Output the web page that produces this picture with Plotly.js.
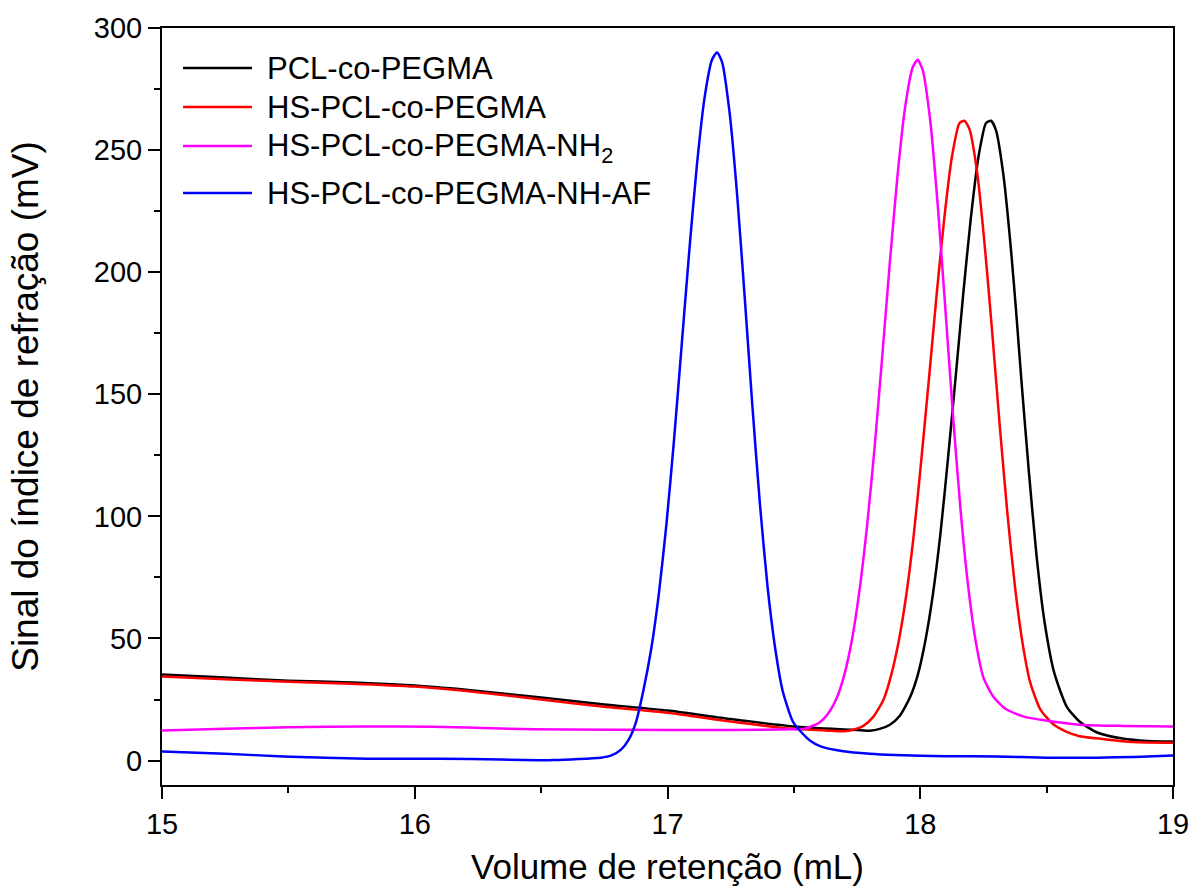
<!DOCTYPE html>
<html>
<head>
<meta charset="utf-8">
<script src="https://cdn.plot.ly/plotly-3.0.1.min.js"></script>
<style>html,body{margin:0;padding:0;background:#fff;}#chart{width:1192px;height:890px;}</style>
</head>
<body>
<div id="chart"></div>
<script>
// Series names
const seriesNames = ["PCL-co-PEGMA", "HS-PCL-co-PEGMA", "HS-PCL-co-PEGMA-NH<sub>2</sub>", "HS-PCL-co-PEGMA-NH-AF"];

// PCL-co-PEGMA (black)
const xBlack = [15, 15.25, 15.5, 15.75, 16, 16.25, 16.5, 16.75, 17, 17.25, 17.5, 17.65, 17.75, 17.8, 17.84, 17.88, 17.92, 17.96, 17.99, 18.02, 18.05, 18.08, 18.11, 18.14, 18.17, 18.2, 18.23, 18.26, 18.28, 18.3, 18.33, 18.36, 18.38, 18.4, 18.43, 18.46, 18.49, 18.53, 18.58, 18.63, 18.7, 18.8, 18.9, 19];
const yBlack = [35.2, 34, 32.7, 32, 30.7, 28.5, 25.8, 23, 20.5, 17, 14, 13, 12.5, 12.2, 13, 14.7, 18.5, 26, 35, 49, 68, 93, 124, 157, 191, 222, 247, 261, 262, 258, 239, 208, 183, 156, 118, 84, 58, 36, 22, 16, 11.5, 9, 8, 7.8];

// HS-PCL-co-PEGMA (red)
const xRed = [15, 15.25, 15.5, 15.75, 16, 16.25, 16.5, 16.75, 17, 17.25, 17.5, 17.65, 17.7, 17.735, 17.775, 17.815, 17.855, 17.885, 17.915, 17.945, 17.975, 18.005, 18.035, 18.065, 18.095, 18.125, 18.155, 18.175, 18.195, 18.225, 18.255, 18.285, 18.315, 18.345, 18.375, 18.405, 18.435, 18.475, 18.525, 18.575, 18.63, 18.71, 18.84, 19];
const yRed = [34.4, 33.3, 32.3, 31.5, 30.3, 28, 25, 22, 19.6, 16, 13, 12.2, 12, 12.6, 14.2, 18, 25, 35, 49, 68, 93, 124, 157, 191, 222, 247, 261, 262, 258.5, 241, 211, 175, 136.5, 101, 71, 48, 32, 21, 15, 12, 10, 9, 7.6, 7.3];

// HS-PCL-co-PEGMA-NH2 (magenta)
const xMag = [15, 15.25, 15.5, 15.81, 16.07, 16.34, 16.6, 17, 17.25, 17.5, 17.54, 17.6, 17.64, 17.67, 17.7, 17.73, 17.76, 17.79, 17.82, 17.85, 17.88, 17.91, 17.94, 17.97, 17.99, 18.01, 18.04, 18.07, 18.1, 18.13, 18.16, 18.19, 18.22, 18.25, 18.29, 18.34, 18.41, 18.49, 18.63, 18.8, 19];
const yMag = [12.3, 13, 13.7, 14, 13.9, 13.1, 12.7, 12.5, 12.5, 12.8, 13, 15.5, 19.9, 25.7, 35.3, 49.6, 70, 96.5, 129, 166, 204.4, 239.5, 267.5, 283.8, 287, 282.7, 261.6, 226.4, 184, 140.7, 102, 71, 48.5, 34, 26, 21, 18, 16.5, 14.7, 14.2, 14];

// HS-PCL-co-PEGMA-NH-AF (blue)
const xBlue = [15, 15.25, 15.48, 15.81, 16.1, 16.34, 16.55, 16.736, 16.776, 16.816, 16.846, 16.876, 16.906, 16.936, 16.966, 16.996, 17.026, 17.056, 17.086, 17.116, 17.146, 17.176, 17.196, 17.216, 17.246, 17.276, 17.306, 17.336, 17.366, 17.396, 17.426, 17.456, 17.496, 17.526, 17.566, 17.606, 17.696, 17.8, 17.9, 18.1, 18.3, 18.5, 18.7, 18.85, 19];
const yBlue = [3.7, 2.8, 1.7, 0.8, 0.8, 0.4, 0.2, 1.2, 2, 4.5, 8.5, 16, 29.4, 46, 68.5, 97, 131.5, 170, 208.5, 243.5, 271, 287, 290, 286, 265, 231, 189, 145, 104.6, 71, 46, 28.4, 16, 12, 8, 5.8, 3.8, 2.8, 2.3, 1.8, 1.7, 1.2, 1.2, 1.5, 2.1];

const colors = ["#000000", "#FF0000", "#FF00FF", "#0000FF"];
const xs = [xBlack, xRed, xMag, xBlue];
const ys = [yBlack, yRed, yMag, yBlue];

const FONT = "Liberation Sans, Arial, sans-serif";

const traces = xs.map((x, i) => ({
  x: x, y: ys[i], name: seriesNames[i], type: "scatter", mode: "lines",
  showlegend: false,
  line: {color: colors[i], width: 2.5, shape: "spline", smoothing: 0.6}
}));

// Legend drawn as line samples + labels (paper coordinates)
const legendY = [0.947, 0.8956, 0.8441, 0.782];
const legendShapes = seriesNames.map((n, i) => ({
  type: "line", xref: "paper", yref: "paper",
  x0: 0.0208, x1: 0.089, y0: legendY[i], y1: legendY[i],
  line: {color: colors[i], width: 2.5}
}));
const legendLabels = seriesNames.map((n, i) => ({
  xref: "paper", yref: "paper", x: 0.1019, y: legendY[i] + (i === 2 ? -0.003 : 0),
  xanchor: "left", yanchor: "middle", showarrow: false, text: n,
  font: {family: FONT, size: 31, color: "#000"}
}));

const layout = {
  width: 1192, height: 890,
  margin: {l: 162, r: 19, t: 28, b: 105},
  paper_bgcolor: "#ffffff", plot_bgcolor: "#ffffff",
  font: {family: FONT, color: "#000"},
  showlegend: false,
  shapes: legendShapes,
  annotations: legendLabels,
  xaxis: {
    range: [15, 19], tickvals: [15, 16, 17, 18, 19], ticktext: ["15", "16", "17", "18", "19"],
    ticks: "outside", ticklen: 12, tickwidth: 2, tickcolor: "#000",
    minor: {dtick: 0.5, ticks: "outside", ticklen: 6, tickwidth: 2, tickcolor: "#000", showgrid: false},
    showline: true, linecolor: "#000", linewidth: 2, mirror: true,
    showgrid: false, zeroline: false,
    tickfont: {family: FONT, size: 29, color: "#000"},
    title: {text: "Volume de retenção (mL)", font: {family: FONT, size: 35, color: "#000"}, standoff: 16}
  },
  yaxis: {
    range: [-10, 300], tickvals: [0, 50, 100, 150, 200, 250, 300],
    ticks: "outside", ticklen: 12, tickwidth: 2, tickcolor: "#000",
    minor: {dtick: 25, ticks: "outside", ticklen: 6, tickwidth: 2, tickcolor: "#000", showgrid: false},
    showline: true, linecolor: "#000", linewidth: 2, mirror: true,
    showgrid: false, zeroline: false,
    tickfont: {family: FONT, size: 29, color: "#000"},
    title: {text: "Sinal do índice de refração (mV)", font: {family: FONT, size: 37, color: "#000"}, standoff: 44}
  }
};

Plotly.newPlot("chart", traces, layout, {staticPlot: true, displayModeBar: false});
</script>
</body>
</html>
